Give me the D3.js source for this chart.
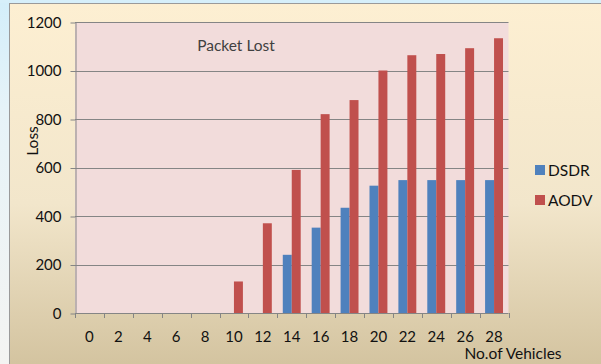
<!DOCTYPE html>
<html>
<head>
<meta charset="utf-8">
<script src="https://cdn.jsdelivr.net/npm/d3@7"></script>
<style>
  html, body { margin: 0; padding: 0; background: #fff; }
  svg { display: block; }
</style>
</head>
<body>
<div id="chart"></div>
<script>
// Packet Lost — grouped bars, DSDR vs AODV per number of vehicles

const categories = [0, 2, 4, 6, 8, 10, 12, 14, 16, 18, 20, 22, 24, 26, 28];
const dsdrValues = [0, 0, 0, 0, 0, 0, 0, 240, 352, 434, 525, 548, 548, 548, 548];
const aodvValues = [0, 0, 0, 0, 0, 130, 370, 590, 820, 878, 1000, 1063, 1068, 1092, 1133];
const yTicks = [0, 200, 400, 600, 800, 1000, 1200];

const SERIES = [
  { name: 'DSDR', values: dsdrValues, color: '#4f81bd' },
  { name: 'AODV', values: aodvValues, color: '#c0504d' },
];

const W = 601, H = 364;
const plot = { left: 75, right: 508.5, top: 22, bottom: 313 };
const FONT = 'Lato, "Open Sans", sans-serif';

const svg = d3.select('#chart')
  .append('svg')
  .attr('width', W)
  .attr('height', H);

const defs = svg.append('defs');

const bgGrad = defs.append('linearGradient')
  .attr('id', 'bg').attr('x1', 0).attr('y1', 0).attr('x2', 0).attr('y2', 1);
bgGrad.append('stop').attr('offset', '0%').attr('stop-color', '#fdefd2');
bgGrad.append('stop').attr('offset', '55%').attr('stop-color', '#f2e6cb');
bgGrad.append('stop').attr('offset', '100%').attr('stop-color', '#d3c39f');

const sideGrad = defs.append('linearGradient')
  .attr('id', 'side').attr('x1', 0).attr('y1', 0).attr('x2', 0).attr('y2', 1);
sideGrad.append('stop').attr('offset', '0%').attr('stop-color', '#d3eefa');
sideGrad.append('stop').attr('offset', '30%').attr('stop-color', '#e6f3f8');
sideGrad.append('stop').attr('offset', '100%').attr('stop-color', '#f4f4f2');

// page bits around the chart frame
svg.append('rect').attr('x', 0).attr('y', 0).attr('width', W).attr('height', H).attr('fill', 'url(#side)');
svg.append('rect').attr('x', 0).attr('y', 0).attr('width', W).attr('height', 3).attr('fill', '#d6effa');

// chart area
svg.append('rect')
  .attr('x', 9.5).attr('y', 3.5)
  .attr('width', W).attr('height', H)
  .attr('fill', 'url(#bg)')
  .attr('stroke', '#9a9a9a');

// plot area
svg.append('rect')
  .attr('x', plot.left).attr('y', plot.top)
  .attr('width', plot.right - plot.left).attr('height', plot.bottom - plot.top)
  .attr('fill', '#f2dcdb');

const x0 = d3.scaleBand()
  .domain(categories)
  .range([plot.left, plot.right])
  .paddingInner(0.38)
  .paddingOuter(0.19);

const x1 = d3.scaleBand()
  .domain(SERIES.map(s => s.name))
  .range([0, x0.bandwidth()]);

const y = d3.scaleLinear()
  .domain([0, 1200])
  .range([plot.bottom, plot.top]);

// gridlines
svg.append('g')
  .selectAll('line')
  .data(yTicks)
  .join('line')
  .attr('x1', plot.left).attr('x2', plot.right)
  .attr('y1', d => Math.round(y(d)) + 0.5)
  .attr('y2', d => Math.round(y(d)) + 0.5)
  .attr('stroke', '#858585')
  .attr('stroke-width', 1);

// y axis
const yAxis = svg.append('g')
  .attr('transform', `translate(${plot.left + 0.5},0.5)`)
  .call(d3.axisLeft(y).tickValues(yTicks).tickFormat(d3.format('d'))
    .tickSize(5).tickPadding(9).tickSizeOuter(0));
yAxis.select('.domain').attr('stroke', '#858585');
yAxis.selectAll('.tick line').attr('stroke', '#858585');
yAxis.selectAll('.tick text')
  .attr('font-family', FONT)
  .attr('font-size', 15)
  .attr('fill', '#111');

// x axis ticks at band boundaries
const step = x0.step();
const boundaries = d3.range(categories.length + 1).map(i => plot.left + i * step);
svg.append('g')
  .selectAll('line')
  .data(boundaries)
  .join('line')
  .attr('x1', d => Math.round(d) + 0.5).attr('x2', d => Math.round(d) + 0.5)
  .attr('y1', plot.bottom).attr('y2', plot.bottom + 5)
  .attr('stroke', '#858585');

svg.append('g')
  .selectAll('text')
  .data(categories)
  .join('text')
  .attr('x', d => x0(d) + x0.bandwidth() / 2)
  .attr('y', 342)
  .attr('text-anchor', 'middle')
  .attr('font-family', FONT)
  .attr('font-size', 15)
  .attr('fill', '#111')
  .text(d => d);

// bars
const groups = svg.append('g')
  .selectAll('g')
  .data(SERIES)
  .join('g')
  .attr('fill', d => d.color);

groups.selectAll('rect')
  .data(s => categories.map((c, i) => ({ c, v: s.values[i], name: s.name })).filter(d => d.v > 0))
  .join('rect')
  .attr('x', d => x0(d.c) + x1(d.name))
  .attr('width', x1.bandwidth())
  .attr('y', d => y(d.v))
  .attr('height', d => y(0) - y(d.v));

// titles
svg.append('text')
  .attr('x', 236).attr('y', 51)
  .attr('text-anchor', 'middle')
  .attr('font-family', FONT)
  .attr('font-size', 15.5)
  .attr('fill', '#404040')
  .text('Packet Lost');

svg.append('text')
  .attr('transform', 'translate(38,141) rotate(-90)')
  .attr('text-anchor', 'middle')
  .attr('font-family', FONT)
  .attr('font-size', 15.5)
  .attr('fill', '#111')
  .text('Loss');

svg.append('text')
  .attr('x', 513).attr('y', 359)
  .attr('text-anchor', 'middle')
  .attr('font-family', FONT)
  .attr('font-size', 15.5)
  .attr('fill', '#111')
  .text('No.of Vehicles');

// legend
const legend = svg.append('g').attr('transform', 'translate(535,165)');
SERIES.forEach((s, i) => {
  legend.append('rect')
    .attr('x', 0).attr('y', i * 30)
    .attr('width', 10).attr('height', 10)
    .attr('fill', s.color);
  legend.append('text')
    .attr('x', 13).attr('y', i * 30 + 10.5)
    .attr('font-family', FONT)
    .attr('font-size', 15.5)
    .attr('fill', '#111')
    .text(s.name);
});
</script>
</body>
</html>
